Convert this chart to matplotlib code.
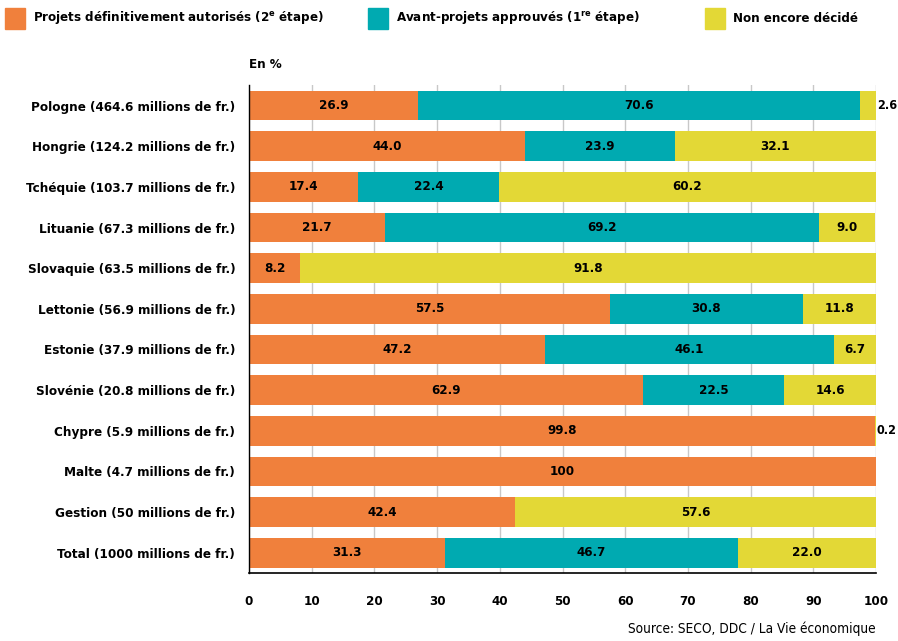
import matplotlib.pyplot as plt
import matplotlib.patches as mpatches
import numpy as np

plt.rcParams['font.family'] = ['DejaVu Sans']
plt.rcParams['font.stretch'] = 'condensed'

# data
countries = ['Pologne (464.6 millions de fr.)', 'Hongrie (124.2 millions de fr.)',
             'Tchéquie (103.7 millions de fr.)', 'Lituanie (67.3 millions de fr.)',
             'Slovaquie (63.5 millions de fr.)', 'Lettonie (56.9 millions de fr.)',
             'Estonie (37.9 millions de fr.)', 'Slovénie (20.8 millions de fr.)',
             'Chypre (5.9 millions de fr.)', 'Malte (4.7 millions de fr.)',
             'Gestion (50 millions de fr.)', 'Total (1000 millions de fr.)']
definitifs = [26.9, 44.0, 17.4, 21.7, 8.2, 57.5, 47.2, 62.9, 99.8, 100, 42.4, 31.3]
avant_projets = [70.6, 23.9, 22.4, 69.2, 0, 30.8, 46.1, 22.5, 0, 0, 0, 46.7]
non_decide = [2.6, 32.1, 60.2, 9.0, 91.8, 11.8, 6.7, 14.6, 0.2, 0, 57.6, 22.0]

lab_def = ['26.9', '44.0', '17.4', '21.7', '8.2', '57.5', '47.2', '62.9', '99.8', '100', '42.4', '31.3']
lab_avp = ['70.6', '23.9', '22.4', '69.2', '', '30.8', '46.1', '22.5', '', '', '', '46.7']
lab_non = ['2.6', '32.1', '60.2', '9.0', '91.8', '11.8', '6.7', '14.6', '0.2', '', '57.6', '22.0']
outside = [True, False, False, False, False, False, False, False, True, False, False, False]

c_def = '#F0803C'
c_avp = '#00AAB1'
c_non = '#E3D836'

fs = 9.5

fig = plt.figure(figsize=(8.98, 6.41), dpi=100)
ax = fig.add_axes([0.2773, 0.106, 0.6982, 0.761])

y = np.arange(len(countries))
d = np.array(definitifs)
a = np.array(avant_projets)
n = np.array(non_decide)

h = 0.73
ax.barh(y, d, height=h, color=c_def, zorder=2)
ax.barh(y, a, left=d, height=h, color=c_avp, zorder=2)
ax.barh(y, n, left=d + a, height=h, color=c_non, zorder=2)

for i in range(len(countries)):
    if lab_def[i]:
        ax.text(d[i] / 2, y[i], lab_def[i], ha='center', va='center', fontsize=fs, fontweight='bold', zorder=3)
    if lab_avp[i]:
        ax.text(d[i] + a[i] / 2, y[i], lab_avp[i], ha='center', va='center', fontsize=fs, fontweight='bold', zorder=3)
    if lab_non[i]:
        if outside[i]:
            ax.text(100.15, y[i], lab_non[i], ha='left', va='center', fontsize=9, fontweight='bold', zorder=3, clip_on=False)
        else:
            ax.text(d[i] + a[i] + n[i] / 2, y[i], lab_non[i], ha='center', va='center', fontsize=fs, fontweight='bold', zorder=3)

ax.set_xlim(0, 100)
ax.set_ylim(len(countries) - 0.5, -0.5)
ax.set_yticks(y)
ax.set_yticklabels(countries, fontsize=9.6, fontweight='bold')
ax.set_xticks(range(0, 101, 10))
ax.set_xticklabels([str(v) for v in range(0, 101, 10)], fontsize=fs, fontweight='bold')
ax.tick_params(axis='x', length=0, pad=16)
ax.tick_params(axis='y', length=0, pad=10)
ax.xaxis.grid(True, color='#c8c8c8', linewidth=1, zorder=0)
ax.set_axisbelow(True)
for s in ['top', 'right']:
    ax.spines[s].set_visible(False)
ax.spines['left'].set_linewidth(1)
ax.spines['bottom'].set_linewidth(1.2)

fig.text(249 / 898, 1 - 65 / 641, 'En %', fontsize=fs, fontweight='bold', ha='left', va='center')
fig.text(876 / 898, 1 - 629 / 641, 'Source: SECO, DDC / La Vie économique', fontsize=9.8, ha='right', va='center')

# legend
leg_items = [(c_def, 5, 'Projets définitivement autorisés (2$^{\\mathregular{e}}$ étape)'),
             (c_avp, 368, 'Avant-projets approuvés (1$^{\\mathregular{re}}$ étape)'),
             (c_non, 705, 'Non encore décidé')]
for col, x0, txt in leg_items:
    fig.patches.append(mpatches.Rectangle((x0 / 898, 1 - 29 / 641), 20 / 898, 21 / 641,
                                          transform=fig.transFigure, color=col))
    fig.text((x0 + 28) / 898, 1 - 18 / 641, txt, fontsize=fs, fontweight='bold', ha='left', va='center')

fig.savefig('out.png', dpi=100)
